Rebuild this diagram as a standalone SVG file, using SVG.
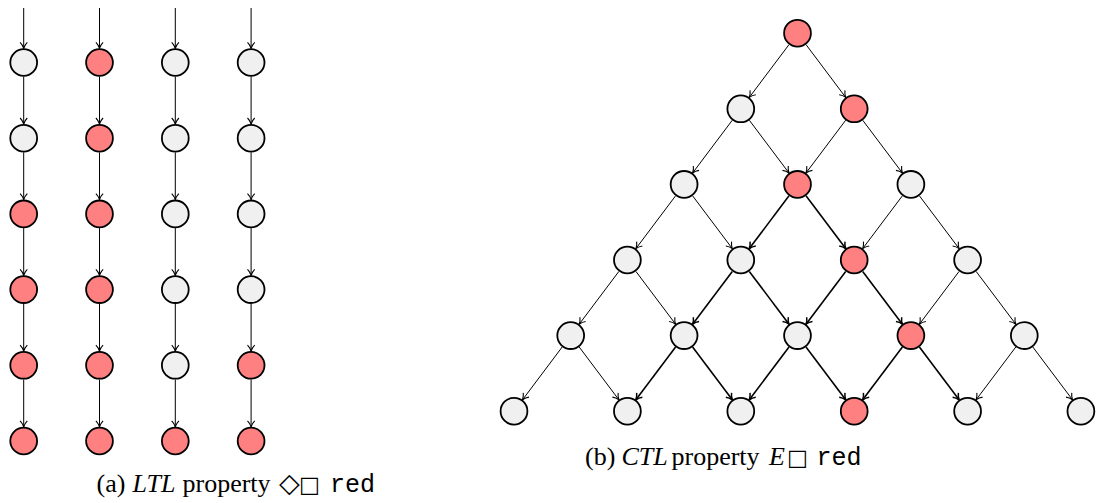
<svg xmlns="http://www.w3.org/2000/svg" width="1096" height="503" viewBox="0 0 1096 503">
<style>
.n{stroke:#000;stroke-width:1.8}
.g{fill:#f0f0f0}
.r{fill:#ff8080}
.e{stroke:#000;stroke-width:1;fill:none;marker-end:url(#ah)}
.t{stroke:#000;stroke-width:1.6;fill:none;marker-end:url(#ah2)}
.cap{font-family:"Liberation Serif","Times New Roman",serif;font-size:26px;fill:#000}
.it{font-style:italic}
.sym{font-family:"DejaVu Sans",sans-serif;font-size:22px}
.dia{font-family:"DejaVu Sans",sans-serif;font-size:27px}
.mono{font-family:"Liberation Mono","Courier New",monospace;font-size:25px}
</style>
<defs>
<marker id="ah" markerUnits="userSpaceOnUse" viewBox="-8 -5 10 10" markerWidth="10" markerHeight="10" refX="0" refY="0" orient="auto">
<path d="M-6,-3.6 C-4,-1.6 -1.6,-0.5 0,0 C-1.6,0.5 -4,1.6 -6,3.6" fill="none" stroke="#000" stroke-width="1.1"/>
</marker>
<marker id="ah2" markerUnits="userSpaceOnUse" viewBox="-8 -5 10 10" markerWidth="10" markerHeight="10" refX="0" refY="0" orient="auto">
<path d="M-6,-3.6 C-4,-1.6 -1.6,-0.5 0,0 C-1.6,0.5 -4,1.6 -6,3.6" fill="none" stroke="#000" stroke-width="1.5"/>
</marker>
</defs>

<g id="connectors">
<g id="ltl-edges">
<line class="e" x1="23.7" y1="8" x2="23.7" y2="48.3"/>
<line class="e" x1="23.7" y1="76.7" x2="23.7" y2="124"/>
<line class="e" x1="23.7" y1="152.4" x2="23.7" y2="199.7"/>
<line class="e" x1="23.7" y1="228.1" x2="23.7" y2="275.4"/>
<line class="e" x1="23.7" y1="303.8" x2="23.7" y2="351.1"/>
<line class="e" x1="23.7" y1="379.5" x2="23.7" y2="426.8"/>
<line class="e" x1="99.5" y1="8" x2="99.5" y2="48.3"/>
<line class="e" x1="99.5" y1="76.7" x2="99.5" y2="124"/>
<line class="e" x1="99.5" y1="152.4" x2="99.5" y2="199.7"/>
<line class="e" x1="99.5" y1="228.1" x2="99.5" y2="275.4"/>
<line class="e" x1="99.5" y1="303.8" x2="99.5" y2="351.1"/>
<line class="e" x1="99.5" y1="379.5" x2="99.5" y2="426.8"/>
<line class="e" x1="175.3" y1="8" x2="175.3" y2="48.3"/>
<line class="e" x1="175.3" y1="76.7" x2="175.3" y2="124"/>
<line class="e" x1="175.3" y1="152.4" x2="175.3" y2="199.7"/>
<line class="e" x1="175.3" y1="228.1" x2="175.3" y2="275.4"/>
<line class="e" x1="175.3" y1="303.8" x2="175.3" y2="351.1"/>
<line class="e" x1="175.3" y1="379.5" x2="175.3" y2="426.8"/>
<line class="e" x1="251.1" y1="8" x2="251.1" y2="48.3"/>
<line class="e" x1="251.1" y1="76.7" x2="251.1" y2="124"/>
<line class="e" x1="251.1" y1="152.4" x2="251.1" y2="199.7"/>
<line class="e" x1="251.1" y1="228.1" x2="251.1" y2="275.4"/>
<line class="e" x1="251.1" y1="303.8" x2="251.1" y2="351.1"/>
<line class="e" x1="251.1" y1="379.5" x2="251.1" y2="426.8"/>
</g>
<g id="ctl-edges">
<line class="e" x1="789" y1="44.6" x2="749.3" y2="97.4"/>
<line class="e" x1="806" y1="44.6" x2="845.7" y2="97.4"/>
<line class="e" x1="732.3" y1="120.2" x2="692.6" y2="173"/>
<line class="e" x1="749.3" y1="120.2" x2="789" y2="173"/>
<line class="e" x1="845.7" y1="120.2" x2="806" y2="173"/>
<line class="e" x1="862.7" y1="120.2" x2="902.4" y2="173"/>
<line class="e" x1="675.6" y1="195.8" x2="635.9" y2="248.6"/>
<line class="e" x1="692.6" y1="195.8" x2="732.3" y2="248.6"/>
<line class="t" x1="789" y1="195.8" x2="749.3" y2="248.6"/>
<line class="t" x1="806" y1="195.8" x2="845.7" y2="248.6"/>
<line class="e" x1="902.4" y1="195.8" x2="862.7" y2="248.6"/>
<line class="e" x1="919.4" y1="195.8" x2="959.1" y2="248.6"/>
<line class="e" x1="618.9" y1="271.4" x2="579.2" y2="324.2"/>
<line class="e" x1="635.9" y1="271.4" x2="675.6" y2="324.2"/>
<line class="t" x1="732.3" y1="271.4" x2="692.6" y2="324.2"/>
<line class="t" x1="749.3" y1="271.4" x2="789" y2="324.2"/>
<line class="t" x1="845.7" y1="271.4" x2="806" y2="324.2"/>
<line class="t" x1="862.7" y1="271.4" x2="902.4" y2="324.2"/>
<line class="e" x1="959.1" y1="271.4" x2="919.4" y2="324.2"/>
<line class="e" x1="976.1" y1="271.4" x2="1015.8" y2="324.2"/>
<line class="e" x1="562.2" y1="347" x2="522.5" y2="399.8"/>
<line class="e" x1="579.2" y1="347" x2="618.9" y2="399.8"/>
<line class="t" x1="675.6" y1="347" x2="635.9" y2="399.8"/>
<line class="t" x1="692.6" y1="347" x2="732.3" y2="399.8"/>
<line class="t" x1="789" y1="347" x2="749.3" y2="399.8"/>
<line class="t" x1="806" y1="347" x2="845.7" y2="399.8"/>
<line class="t" x1="902.4" y1="347" x2="862.7" y2="399.8"/>
<line class="t" x1="919.4" y1="347" x2="959.1" y2="399.8"/>
<line class="e" x1="1015.8" y1="347" x2="976.1" y2="399.8"/>
<line class="e" x1="1032.8" y1="347" x2="1072.5" y2="399.8"/>
</g>
</g>

<g id="ltl-c0">
<circle class="n g" cx="23.7" cy="62.5" r="13.4"/>
<circle class="n g" cx="23.7" cy="138.2" r="13.4"/>
<circle class="n r" cx="23.7" cy="213.9" r="13.4"/>
<circle class="n r" cx="23.7" cy="289.6" r="13.4"/>
<circle class="n r" cx="23.7" cy="365.3" r="13.4"/>
<circle class="n r" cx="23.7" cy="441" r="13.4"/>
</g>
<g id="ltl-c1">
<circle class="n r" cx="99.5" cy="62.5" r="13.4"/>
<circle class="n r" cx="99.5" cy="138.2" r="13.4"/>
<circle class="n r" cx="99.5" cy="213.9" r="13.4"/>
<circle class="n r" cx="99.5" cy="289.6" r="13.4"/>
<circle class="n r" cx="99.5" cy="365.3" r="13.4"/>
<circle class="n r" cx="99.5" cy="441" r="13.4"/>
</g>
<g id="ltl-c2">
<circle class="n g" cx="175.3" cy="62.5" r="13.4"/>
<circle class="n g" cx="175.3" cy="138.2" r="13.4"/>
<circle class="n g" cx="175.3" cy="213.9" r="13.4"/>
<circle class="n g" cx="175.3" cy="289.6" r="13.4"/>
<circle class="n g" cx="175.3" cy="365.3" r="13.4"/>
<circle class="n r" cx="175.3" cy="441" r="13.4"/>
</g>
<g id="ltl-c3">
<circle class="n g" cx="251.1" cy="62.5" r="13.4"/>
<circle class="n g" cx="251.1" cy="138.2" r="13.4"/>
<circle class="n g" cx="251.1" cy="213.9" r="13.4"/>
<circle class="n g" cx="251.1" cy="289.6" r="13.4"/>
<circle class="n r" cx="251.1" cy="365.3" r="13.4"/>
<circle class="n r" cx="251.1" cy="441" r="13.4"/>
</g>

<g id="ctl-r0"><circle class="n r" cx="797.5" cy="33.2" r="13.4"/></g>
<g id="ctl-r1">
<circle class="n g" cx="740.8" cy="108.8" r="13.4"/>
<circle class="n r" cx="854.2" cy="108.8" r="13.4"/>
</g>
<g id="ctl-r2">
<circle class="n g" cx="684.1" cy="184.4" r="13.4"/>
<circle class="n r" cx="797.5" cy="184.4" r="13.4"/>
<circle class="n g" cx="910.9" cy="184.4" r="13.4"/>
</g>
<g id="ctl-r3">
<circle class="n g" cx="627.4" cy="260" r="13.4"/>
<circle class="n g" cx="740.8" cy="260" r="13.4"/>
<circle class="n r" cx="854.2" cy="260" r="13.4"/>
<circle class="n g" cx="967.6" cy="260" r="13.4"/>
</g>
<g id="ctl-r4">
<circle class="n g" cx="570.7" cy="335.6" r="13.4"/>
<circle class="n g" cx="684.1" cy="335.6" r="13.4"/>
<circle class="n g" cx="797.5" cy="335.6" r="13.4"/>
<circle class="n r" cx="910.9" cy="335.6" r="13.4"/>
<circle class="n g" cx="1024.3" cy="335.6" r="13.4"/>
</g>
<g id="ctl-r5">
<circle class="n g" cx="514" cy="411.2" r="13.4"/>
<circle class="n g" cx="627.4" cy="411.2" r="13.4"/>
<circle class="n g" cx="740.8" cy="411.2" r="13.4"/>
<circle class="n r" cx="854.2" cy="411.2" r="13.4"/>
<circle class="n g" cx="967.6" cy="411.2" r="13.4"/>
<circle class="n g" cx="1080.9" cy="411.2" r="13.4"/>
</g>

<g id="captions">
<text class="cap" y="492"><tspan x="96.5">(a)</tspan><tspan x="132.5" class="it">LTL</tspan><tspan x="182.5">property</tspan><tspan x="279" class="dia">◇</tspan><tspan x="299" class="sym">□</tspan><tspan x="330" class="mono">red</tspan></text>
<text class="cap" y="465"><tspan x="585">(b)</tspan><tspan x="621.5" class="it">CTL</tspan><tspan x="671.5">property</tspan><tspan x="769" class="it">E</tspan><tspan x="787" class="sym">□</tspan><tspan x="816.5" class="mono">red</tspan></text>
</g>
</svg>
